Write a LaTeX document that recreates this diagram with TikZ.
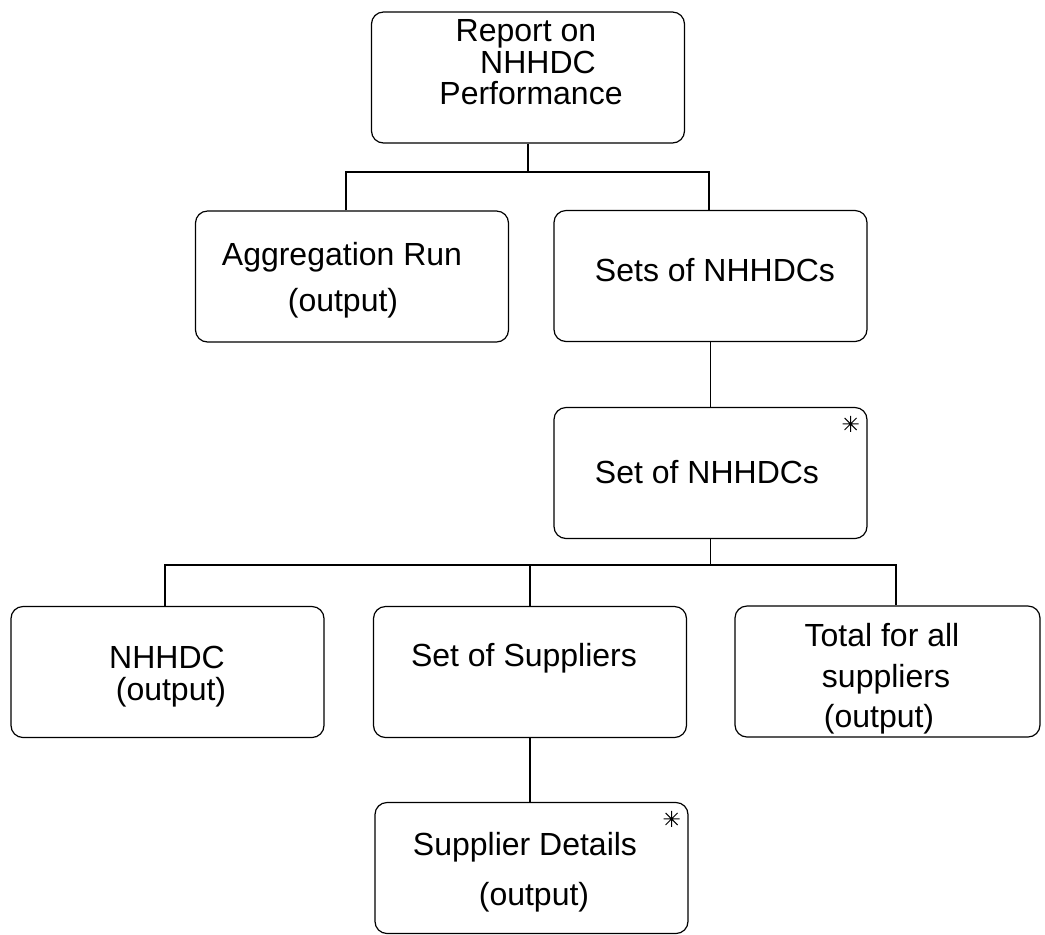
\documentclass[tikz,border=0pt]{standalone}
\usepackage{fontspec}
\setmainfont{Liberation Sans}
\usetikzlibrary{calc}

\begin{document}
\begin{tikzpicture}[x=0.5pt, y=-0.5pt, line width=0.6pt,
    blok/.style={draw, rounded corners=6pt, minimum width=156.5pt, minimum height=65.5pt, inner sep=0pt},
    txt/.style={anchor=base, inner sep=0pt, font=\fontsize{16}{19}\selectfont},
    starline/.style={line width=0.5pt}]
  \useasboundingbox (0,0) rectangle (1045,934);
  % boxes
  \node [blok] (report) at (528,77.5) {};
  \node [blok] (agg) at (352,276.5) {};
  \node [blok] (sets) at (710.5,276) {};
  \node [blok] (setof) at (710.5,473) {};
  \node [blok] (nhhdc) at (167.5,672) {};
  \node [blok] (supp) at (530,672) {};
  \node [blok, minimum width=152.5pt] (total) at (887.5,671.5) {};
  \node [blok] (det) at (531.5,868) {};
  % texts
  \node [txt] (rep1) at (526,41) {Report on};
  \node [txt] (rep2) at (538,73) {NHHDC};
  \node [txt] (rep3) at (531,104) {Performance};
  \node [txt] (agg1) at (342,265) {Aggregation Run};
  \node [txt] (agg2) at (343,311) {(output)};
  \node [txt] (sets1) at (715,281) {Sets of NHHDCs};
  \node [txt] (setof1) at (707,483) {Set of NHHDCs};
  \node [txt] (nh1) at (167,668) {NHHDC};
  \node [txt] (nh2) at (171,700) {(output)};
  \node [txt] (supp1) at (524,666) {Set of Suppliers};
  \node [txt] (tot1) at (882,646) {Total for all};
  \node [txt] (tot2) at (886,687) {suppliers};
  \node [txt] (tot3) at (879,727) {(output)};
  \node [txt] (det1) at (525,855) {Supplier Details};
  \node [txt] (det2) at (534,905) {(output)};
  % iteration marks
  \coordinate (st1) at ($(setof.north east)+(-17,17)$);
  \coordinate (st2) at ($(det.north east)+(-17,17)$);
  \foreach \s in {st1,st2} {
    \draw [starline] (\s) +(-8,0) -- +(8,0) +(0,-8) -- +(0,8)
      +(-6,-6) -- +(6,6) +(-6,6) -- +(6,-6);
  }
  % connectors
  \coordinate (b1l) at (346,172);
  \coordinate (b1r) at (709,172);
  \draw (report.south) -- (report.south |- b1l);
  \draw (b1l |- agg.north) -- (b1l) -- (b1r) -- (b1r |- sets.north);
  \draw (sets) -- (setof);
  \coordinate (b2l) at (165,565);
  \coordinate (b2r) at (896,565);
  \draw (setof.south) -- (setof.south |- b2l);
  \draw (b2l |- nhhdc.north) -- (b2l) -- (b2r) -- (b2r |- total.north);
  \draw (supp.north) -- (supp.north |- b2l);
  \draw (supp.south) -- (supp.south |- det.north);
\end{tikzpicture}
\end{document}
